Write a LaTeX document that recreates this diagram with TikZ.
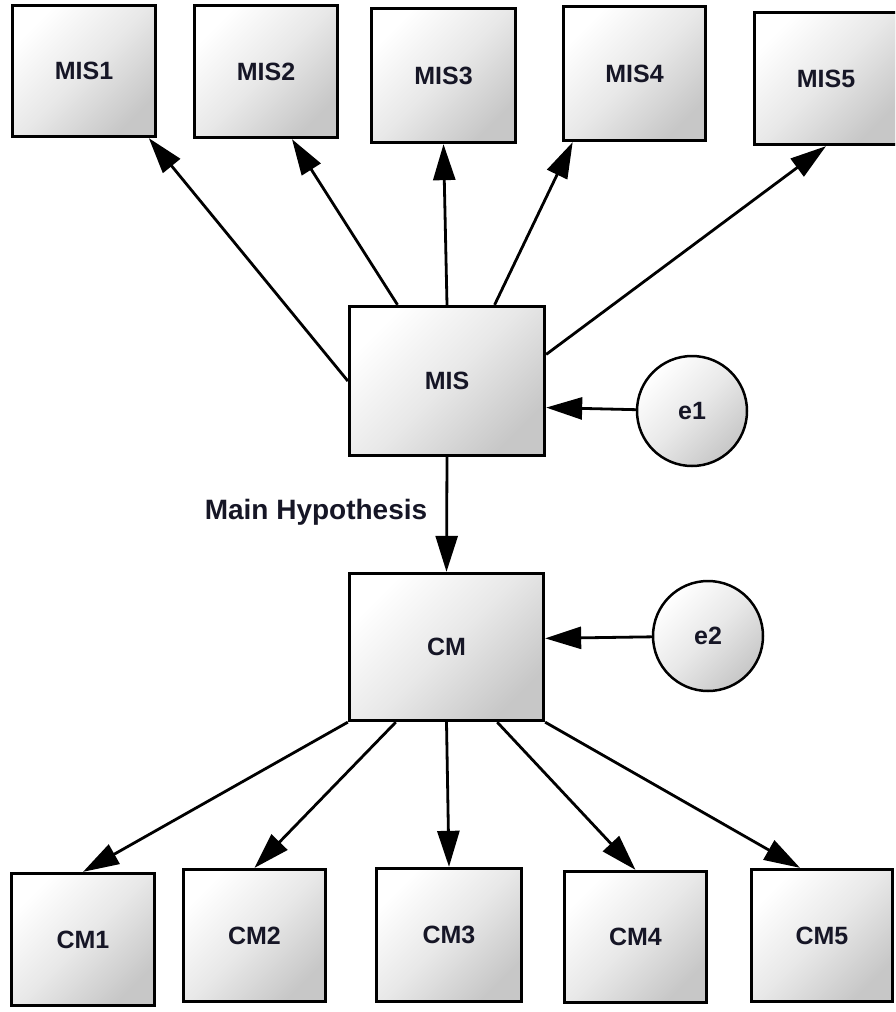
\documentclass[tikz,border=0pt]{standalone}
\usepackage{fontspec}
\setmainfont{Liberation Sans}
\usetikzlibrary{arrows.meta,shadows}

\definecolor{inkc}{RGB}{22,22,38}

\tikzset{
  var/.style={draw=black, line width=3.3pt, rectangle,
    top color=white, bottom color=black!22, middle color=black!9, shading angle=45,
    drop shadow={shadow xshift=1.5pt, shadow yshift=-1.5pt, opacity=0.35, fill=black!60},
    text=inkc, font=\bfseries\fontsize{25}{30}\selectfont, inner sep=0pt},
  err/.style={draw=black, line width=2.5pt, circle,
    top color=white, bottom color=black!22, middle color=black!9, shading angle=45,
    minimum size=110pt, inner sep=0pt,
    text=inkc, font=\bfseries\fontsize{25}{30}\selectfont},
  link/.style={line width=2.8pt, -{Triangle[length=36pt,width=22pt]}},
  tag/.style={text=inkc, font=\bfseries\fontsize{28}{33}\selectfont, inner sep=0pt}
}

\begin{document}
\begin{tikzpicture}[x=1pt, y=-1pt]
\clip (0,0) rectangle (895,1012);
\fill[white] (0,0) rectangle (895,1012);

% indicator boxes of the MIS construct
\node[var, minimum width=143pt, minimum height=131pt] (MIS1) at (84,71)    {MIS1};
\node[var, minimum width=143pt, minimum height=132pt] (MIS2) at (266,71.5) {MIS2};
\node[var, minimum width=144pt, minimum height=134pt] (MIS3) at (443.5,75.5) {MIS3};
\node[var, minimum width=142pt, minimum height=134pt] (MIS4) at (634.5,73.5) {MIS4};
\node[var, minimum width=143pt, minimum height=132pt] (MIS5) at (826,78.5) {MIS5};

% latent constructs
\node[var, minimum width=195pt, minimum height=149pt] (MIS) at (447,381)   {MIS};
\node[var, minimum width=194pt, minimum height=147pt] (CM)  at (446.5,647) {CM};

% error terms
\node[err] (e1) at (692,411) {e1};
\node[err] (e2) at (708,636) {e2};

% indicator boxes of the CM construct
\node[var, minimum width=143pt, minimum height=132pt] (CM1) at (83,939.5)  {CM1};
\node[var, minimum width=142pt, minimum height=132pt] (CM2) at (254.5,935.5) {CM2};
\node[var, minimum width=145pt, minimum height=133pt] (CM3) at (449,935)   {CM3};
\node[var, minimum width=142pt, minimum height=131pt] (CM4) at (635.5,937) {CM4};
\node[var, minimum width=141pt, minimum height=132pt] (CM5) at (822,935.5) {CM5};

\node[tag] (hyp) at (316,512) {Main Hypothesis};

% loadings of MIS
\draw[link] (MIS.west) -- (MIS1.-46);
\draw[link] (MIS.123)  -- (MIS2.-69);
\draw[link] (MIS.north) -- (MIS3.south);
\draw[link] (MIS.58)   -- (MIS4.-132);
\draw[link] (MIS.15)   -- (MIS5.south);

% error paths
\draw[link] (e1) -- (MIS.-15);
\draw[link] (e2) -- (CM.5);

% structural path
\draw[link] (MIS.south) -- (CM.north);

% loadings of CM
\draw[link] (CM.south west) -- (CM1.north);
\draw[link] (CM.-124) -- (CM2.north);
\draw[link] (CM.south)  -- (CM3.north);
\draw[link] (CM.-56)  -- (CM4.north);
\draw[link] (CM.south east) -- (CM5.108);
\end{tikzpicture}
\end{document}
